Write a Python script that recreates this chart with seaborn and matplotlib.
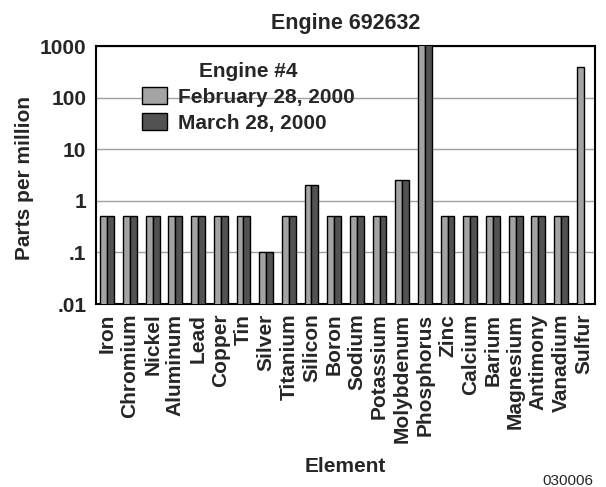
import matplotlib
matplotlib.use("Agg")
import matplotlib.pyplot as plt
import seaborn as sns
import pandas as pd
import numpy as np
from matplotlib.ticker import FixedLocator, FixedFormatter

elements = ["Iron", "Chromium", "Nickel", "Aluminum", "Lead", "Copper", "Tin",
            "Silver", "Titanium", "Silicon", "Boron", "Sodium", "Potassium",
            "Molybdenum", "Phosphorus", "Zinc", "Calcium", "Barium", "Magnesium",
            "Antimony", "Vanadium", "Sulfur"]
feb = [0.5, 0.5, 0.5, 0.5, 0.5, 0.5, 0.5, 0.1, 0.5, 2, 0.5, 0.5, 0.5,
       2.5, 1200, 0.5, 0.5, 0.5, 0.5, 0.5, 0.5, 400]
mar = [0.5, 0.5, 0.5, 0.5, 0.5, 0.5, 0.5, 0.1, 0.5, 2, 0.5, 0.5, 0.5,
       2.5, 1200, 0.5, 0.5, 0.5, 0.5, 0.5, 0.5, np.nan]
series = ["February 28, 2000", "March 28, 2000"]
ytick_vals = [0.01, 0.1, 1, 10, 100, 1000]
ytick_labels = [".01", ".1", "1", "10", "100", "1000"]

df = pd.DataFrame({
    "Element": elements * 2,
    "ppm": feb + mar,
    "Series": [series[0]] * len(elements) + [series[1]] * len(elements),
})

sns.set_style("white")
plt.rcParams["font.family"] = ["Liberation Sans", "DejaVu Sans"]
plt.rcParams["font.weight"] = "bold"

FS = 15

fig = plt.figure(figsize=(6.06, 4.87), dpi=100)
ax = fig.add_axes([96 / 606, 1 - 304 / 487, 499 / 606, 258 / 487])

sns.barplot(data=df, x="Element", y="ppm", hue="Series", ax=ax,
            palette=["#a3a3a3", "#525252"], width=0.61, gap=0,
            edgecolor="black", linewidth=1.0, saturation=1, zorder=3)
ax.set_yscale("log")
ax.set_ylim(0.01, 1000)
ax.set_xlim(-0.5, len(elements) - 0.5)

ax.yaxis.set_major_locator(FixedLocator(ytick_vals))
ax.yaxis.set_major_formatter(FixedFormatter(ytick_labels))
ax.yaxis.set_minor_locator(FixedLocator([]))
ax.grid(axis="y", color="#a0a0a0", linewidth=1.0, zorder=0)
ax.set_axisbelow(True)

ax.set_xticks(range(len(elements)))
ax.set_xticklabels(elements, rotation=90, fontsize=FS, fontweight="bold")
ax.set_xticks(np.arange(-0.5, len(elements), 1), minor=True)
ax.tick_params(axis="x", which="major", length=0, pad=7)
ax.tick_params(axis="x", which="minor", length=3.5, width=1, direction="out", color="black")
ax.tick_params(axis="y", which="major", length=4, width=1, direction="out", color="black",
               labelsize=FS, pad=3)
for lab in ax.get_yticklabels():
    lab.set_fontweight("bold")

for s in ax.spines.values():
    s.set_color("black")
    s.set_linewidth(1.5)

ax.set_xlabel("Element", fontsize=FS, fontweight="bold")
ax.xaxis.set_label_coords(0.5, (304 - 457) / 258)
ax.set_ylabel("Parts per million", fontsize=FS, fontweight="bold")
ax.yaxis.set_label_coords((34 - 96) / 499, 0.49)
ax.set_title("Engine 692632", fontsize=15.5, fontweight="bold", pad=12)

leg = ax.legend(title="Engine #4", loc="upper left", bbox_to_anchor=(0.072, 0.978),
                frameon=False, fontsize=FS, title_fontsize=FS, borderpad=0,
                handlelength=1.2, handleheight=0.85, labelspacing=0.3,
                handletextpad=0.53)
leg.get_title().set_fontweight("bold")
for t in leg.get_texts():
    t.set_fontweight("bold")

fig.text(593 / 606, (487 - 481) / 487, "030006", ha="right", va="center",
         fontsize=11, fontweight="normal")

fig.savefig("out.png", dpi=100)
